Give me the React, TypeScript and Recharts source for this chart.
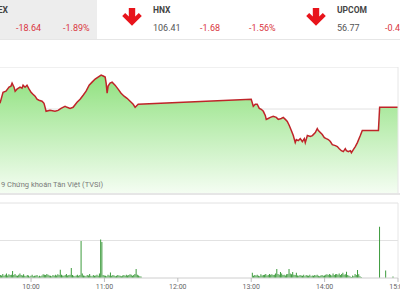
import { AreaChart, Area, ComposedChart, Bar, XAxis, YAxis, CartesianGrid, ReferenceLine } from "recharts";

const FONT = "Roboto, 'Noto Sans', sans-serif";
const RED = "#d9363e";

// intraday index line (minutes since midnight -> index points)
const morningTimes = [
  574.6, 577.1, 579.5, 582, 583.6, 584.5, 586.1, 587, 588.5, 591, 592.6, 593.5, 595.1, 596.7, 598.4, 600,
  601.6, 603.3, 604.9, 606.5, 609, 610.6, 611.5, 612.3, 615.5, 619.6, 622.1, 624.5, 627.8, 629.5, 631.9,
  634.4, 637.6, 640.1, 642.6, 645, 647.5, 649.9, 652.4, 654.8, 657.3, 659, 660.6, 661.4, 662.2, 663, 664.6,
  666.3, 668.7, 671.2, 673.6, 676.1, 678.5, 681, 683.5, 685.1, 687.6,
];
const morningPrices = [
  968.54, 969.6, 969.7, 970.08, 970.18, 970.46, 970.08, 969.7, 969.89, 970.08, 969.98, 970.27, 970.08, 970.27,
  969.89, 969.6, 969.41, 969.22, 968.93, 968.83, 968.74, 968.54, 968.16, 967.78, 967.87, 967.78, 967.87,
  968.06, 968.26, 968.16, 968.06, 968.16, 968.64, 968.93, 969.31, 969.7, 970.27, 970.56, 970.85, 971.04,
  971.23, 971.14, 971.04, 970.46, 969.5, 970.18, 970.46, 970.56, 970.27, 969.89, 969.5, 969.22, 969.02,
  968.74, 968.45, 968.16, 968.45,
];
const afternoonTimes = [
  780, 781.7, 783.3, 784.9, 786.6, 788.2, 789.9, 791.5, 792.3, 793.9, 795.6, 798, 800.5, 802.1, 804.6, 806.2,
  807.9, 809.5, 811.1, 812.8, 814.4, 816, 816.9, 818.5, 820.1, 821.8, 823.4, 824.2, 825.9, 828.3, 830, 832.4,
  834, 834.9, 836.5, 838.1, 839.8, 841.4, 843, 844.7, 846.3, 848.8, 850.4, 852, 853.7, 855.3, 856.9, 857.8,
  859.4, 861, 861.9, 863.5, 865.1, 866.8, 869.2, 870.8, 884, 885, 900,
];
const afternoonPrices = [
  968.93, 968.26, 968.45, 968.45, 968.06, 967.97, 967.78, 967.39, 967.01, 967.1, 967.2, 967.3, 967.2, 967.01,
  967.1, 967.2, 967.01, 966.82, 966.43, 965.95, 965.47, 964.8, 965.09, 964.99, 965.18, 964.9, 965.18, 964.8,
  965.47, 965.38, 965.47, 965.76, 966.14, 965.95, 965.76, 965.57, 965.28, 965.18, 965.09, 964.9, 964.61,
  964.51, 964.42, 964.22, 964.03, 963.94, 964.22, 964.03, 963.94, 964.03, 963.84, 964.13, 964.42, 964.8,
  965.47, 965.95, 965.95, 968.16, 968.16,
];
const priceTicks = [960, 964, 968, 972];

// matched volume per minute
const morningStart = 575; // 9:35 .. 11:30
const morningVolume = [
  40, 35, 55, 30, 45, 60, 35, 50, 40, 45,
  95, 40, 55, 35, 30, 45, 60, 40, 35, 50,
  30, 25, 40, 35, 20, 30, 45, 25, 30, 35,
  40, 20, 30, 25, 35, 50, 45, 40, 55, 45,
  35, 30, 25, 40, 30, 45, 35, 50, 40, 110,
  45, 35, 30, 40, 55, 35, 40, 45, 135, 40,
  30, 25, 35, 45, 30, 40, 495, 60, 35, 30,
  25, 40, 35, 55, 30, 25, 40, 30, 35, 45,
  30, 60, 515, 480, 40, 35, 30, 25, 45, 35,
  75, 30, 40, 35, 25, 30, 40, 35, 30, 25,
  35, 40, 30, 45, 35, 40, 50, 45, 30, 40,
  55, 120, 45, 35, 25, 20,
];
const afternoonStart = 781; // 13:01 .. 14:30
const afternoonVolume = [
  70, 30, 40, 35, 45, 30, 25, 50, 35, 40,
  45, 55, 35, 40, 55, 45, 50, 40, 45, 60,
  120, 55, 45, 80, 60, 40, 45, 35, 50, 55,
  120, 60, 50, 80, 45, 40, 70, 35, 30, 40,
  35, 30, 45, 25, 40, 35, 30, 45, 25, 35,
  30, 40, 35, 45, 30, 25, 35, 40, 30, 35,
  45, 50, 40, 55, 45, 35, 60, 40, 50, 55,
  45, 60, 40, 55, 70, 45, 50, 85, 40, 30,
  20, 15, 35, 25, 55, 40, 108, 50, 25, 15,
];
const closingTimes = [885, 890, 896];
const closingVolume = [684, 100, 20];
const volumeTicks = [0, 500, 1000];
const timeTicks = [600, 660, 720, 780, 840, 900];

const priceData = [
  ...morningTimes.map((t, i) => ({ t, price: morningPrices[i] })),
  ...afternoonTimes.map((t, i) => ({ t, price: afternoonPrices[i] })),
];
const volumeData = [
  ...morningVolume.map((v, i) => ({ t: morningStart + i, volume: v })),
  ...afternoonVolume.map((v, i) => ({ t: afternoonStart + i, volume: v })),
  ...closingTimes.map((t, i) => ({ t, volume: closingVolume[i] })),
];

const fmtTime = (m: number) => `${Math.floor(m / 60)}:${String(m % 60).padStart(2, "0")}`;

function DownArrow({ left, top }: { left: number; top: number }) {
  return (
    <svg width={20} height={18} viewBox="0 0 20 18" style={{ position: "absolute", left, top }}>
      <path d="M6.8,0 H13.2 V8.6 L16.8,5 L19.8,8 L10,17.8 L0.2,8 L3.2,5 L6.8,8.6 Z" fill="#e8141b" />
    </svg>
  );
}

const txt = (left: number, top: number, color: string, bold = false, size = 9): React.CSSProperties => ({
  position: "absolute",
  left,
  top,
  color,
  fontSize: size,
  fontWeight: bold ? 700 : 400,
  lineHeight: "10px",
  whiteSpace: "nowrap",
});

export default function App() {
  return (
    <div
      style={{
        position: "fixed",
        left: 0,
        top: 0,
        width: 400,
        height: 300,
        overflow: "hidden",
        background: "#fff",
        fontFamily: FONT,
      }}
    >
      {/* quote header */}
      <div style={{ position: "absolute", left: 0, top: 0, width: 97, height: 39, background: "#ededed" }} />
      <div style={{ position: "absolute", left: 0, top: 39, width: 400, height: 1, background: "#e6e6e6" }} />
      <span style={{ ...txt(0, 5, "#444", true, 8.5), left: undefined, right: 392 }}>VNINDEX</span>
      <span style={txt(16, 23, RED)}>-18.64</span>
      <span style={txt(63, 23, RED)}>-1.89%</span>
      <DownArrow left={122} top={8} />
      <span style={txt(153, 5, "#444", true, 8.5)}>HNX</span>
      <span style={txt(153, 23, "#555")}>106.41</span>
      <span style={txt(200, 23, RED)}>-1.68</span>
      <span style={txt(249, 23, RED)}>-1.56%</span>
      <DownArrow left={306} top={8} />
      <span style={txt(337, 5, "#444", true, 8.5)}>UPCOM</span>
      <span style={txt(337, 23, "#555")}>56.77</span>
      <span style={txt(385, 23, RED)}>-0.4</span>

      {/* index line */}
      <div style={{ position: "absolute", left: -24, top: 67 }}>
        <AreaChart width={442} height={126} data={priceData} margin={{ top: 0, right: 20, bottom: 0, left: 0 }}>
          <defs>
            <linearGradient id="priceFill" x1="0" y1="0" x2="0" y2="1">
              <stop offset="0%" stopColor="#90e17f" />
              <stop offset="100%" stopColor="#f4fdf2" />
            </linearGradient>
          </defs>
          <CartesianGrid vertical={false} stroke="#e2e2e2" />
          <XAxis dataKey="t" type="number" domain={[555, 900]} hide allowDataOverflow />
          <YAxis type="number" domain={[960, 972]} ticks={priceTicks} hide />
          <ReferenceLine x={900} stroke="#e6e6e6" />
          <Area
            type="linear"
            dataKey="price"
            stroke="#bf2429"
            strokeWidth={1.5}
            fill="url(#priceFill)"
            fillOpacity={1}
            baseValue={960}
            dot={false}
            activeDot={false}
            isAnimationActive={false}
          />
        </AreaChart>
      </div>
      <div style={{ position: "absolute", left: 0, top: 193, width: 400, height: 2, background: "#e6e6e6" }} />
      <span style={{ ...txt(1, 180, "#7a7a7a", false, 7.5) }}>9 Chứng khoán Tân Việt (TVSI)</span>

      {/* volume bars */}
      <div style={{ position: "absolute", left: -24, top: 198 }}>
        <ComposedChart width={442} height={102} data={volumeData} margin={{ top: 5, right: 20, bottom: 0, left: 0 }}>
          <CartesianGrid vertical={false} stroke="#e2e2e2" />
          <XAxis
            dataKey="t"
            type="number"
            domain={[555, 900]}
            ticks={timeTicks}
            tickFormatter={fmtTime}
            height={22}
            tickSize={4}
            axisLine={{ stroke: "#dcdcdc" }}
            tickLine={{ stroke: "#bdbdbd" }}
            tick={{ fontSize: 7, fill: "#666", fontFamily: FONT }}
            interval={0}
            allowDataOverflow
          />
          <YAxis type="number" domain={[0, 1000]} ticks={volumeTicks} hide />
          <ReferenceLine x={900} stroke="#e6e6e6" />
          <Bar dataKey="volume" fill="#3d9b3d" barSize={1} isAnimationActive={false} />
        </ComposedChart>
      </div>
    </div>
  );
}
